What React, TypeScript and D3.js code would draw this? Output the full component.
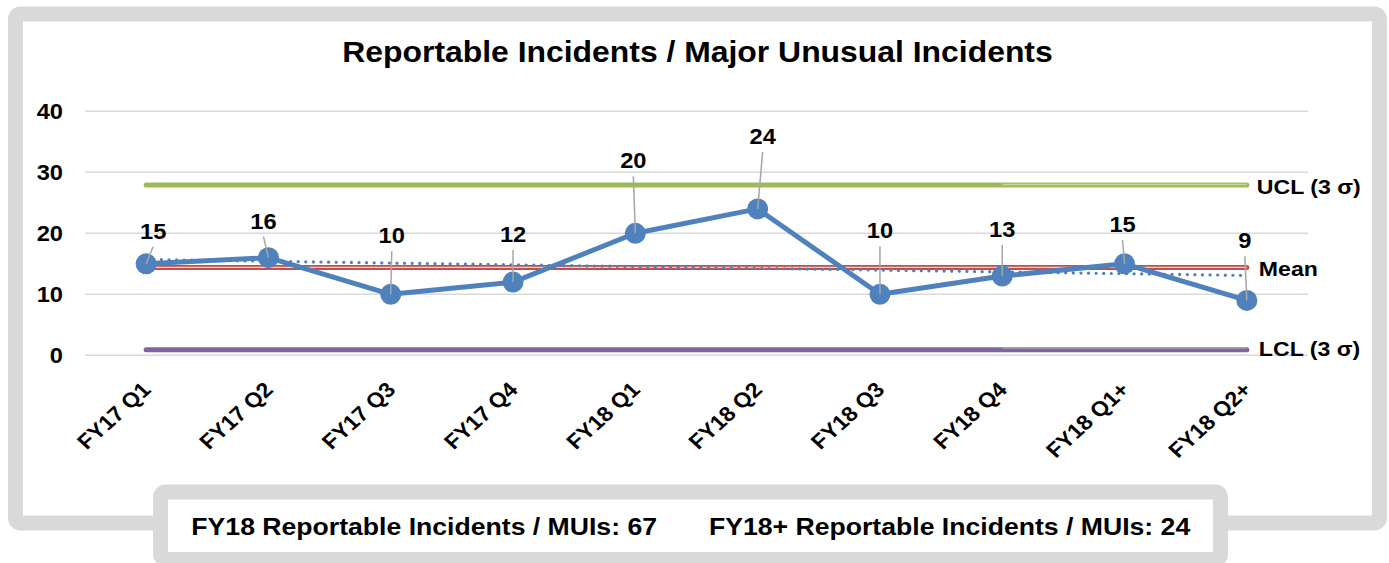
import React from "react";
import * as d3 from "d3";

// ---- data ----
const categories = ["FY17 Q1", "FY17 Q2", "FY17 Q3", "FY17 Q4", "FY18 Q1", "FY18 Q2", "FY18 Q3", "FY18 Q4", "FY18 Q1+", "FY18 Q2+"];
const incidents = [15, 16, 10, 12, 20, 24, 10, 13, 15, 9];
const uclValue = 27.9;
const lclValue = 0.9;
// thin grey limit lines over the FY18+ stretch
const plusCategories = ["FY18 Q4", "FY18 Q1+", "FY18 Q2+"];
const plusUcl = [28, 28, 28];
const plusLcl = [1.2, 1.2, 1.2];
const yTicks = [0, 10, 20, 30, 40];
const limitLabels = ["UCL (3 σ)", "Mean", "LCL (3 σ)"];
const summaryLabels = ["FY18 Reportable Incidents / MUIs: 67", "FY18+ Reportable Incidents / MUIs: 24"];
const chartTitle = "Reportable Incidents / Major Unusual Incidents";

// hand-dragged data label offsets (px) from each point
const labelShift = [[7, -25], [-5, -29], [1, -51], [0, -40], [-2, -65], [5, -65], [0, -56], [0, -39], [-2, -32], [-2, -52]];

const W = 1389, H = 563;
const FONT = "'Liberation Sans', Arial, sans-serif";
const SX = 1.1; // the picture's text is a bit wider than plain Arial
const BLUE = "#4f81bd";

const App = () => {
  // Scales
  const x = d3.scaleBand().domain(categories).range([85, 1308]).padding(0);
  const cx = (c) => x(c) + x.bandwidth() / 2;
  const y = d3.scaleLinear().domain([0, 40]).range([355.3, 111.3]);

  const mean = d3.mean(incidents);

  // least squares trendline (Excel linear trendline)
  const idx = incidents.map((_, i) => i);
  const mx = d3.mean(idx), my = mean;
  const slope = d3.sum(idx, i => (i - mx) * (incidents[i] - my)) / d3.sum(idx, i => (i - mx) ** 2);
  const trend = idx.map(i => my + slope * (i - mx));

  const line = d3.line().x(d => d[0]).y(d => d[1]);
  const pts = incidents.map((v, i) => [cx(categories[i]), y(v)]);
  const first = cx(categories[0]), last = cx(categories[categories.length - 1]);

  const flatLine = (v) => line([[first, y(v)], [last, y(v)]]);
  const plusLine = (vals) => line(vals.map((v, i) => [cx(plusCategories[i]), y(v)]));

  const txt = (tx, ty, s, size, anchor = "start", extra = "") => (
    <text transform={`translate(${tx},${ty}) scale(${SX},1)${extra}`} textAnchor={anchor}
      fontSize={size} fontWeight="bold" fontFamily={FONT} fill="#000">{s}</text>
  );

  const limitY = [y(uclValue), y(mean), y(lclValue)];
  const limitDy = [9, 9, 6];

  return (
    <svg width={W} height={H} style={{ position: "absolute", left: 0, top: 0, display: "block" }}>
      <rect x={0} y={0} width={W} height={H} fill="#fff" />

      {/* outer frame */}
      <rect x={15.5} y={14} width={1364} height={509} rx={5} fill="#fff" stroke="#d9d9d9" strokeWidth={15} />

      {/* title */}
      {txt(697.5, 62, chartTitle, 29, "middle")}

      {/* gridlines */}
      {yTicks.map(t => (
        <g key={t}>
          <line x1={85} x2={1308} y1={y(t)} y2={y(t)} stroke="#d9d9d9" strokeWidth={1.5} />
          {txt(63, y(t) + 8, String(t), 21.5, "end")}
        </g>
      ))}

      {/* control limits */}
      <path d={flatLine(uclValue)} stroke="#9bbb59" strokeWidth={5} strokeLinecap="round" fill="none" />
      <path d={flatLine(lclValue)} stroke="#8064a2" strokeWidth={5} strokeLinecap="round" fill="none" />
      <path d={plusLine(plusUcl)} stroke="#c4d79b" strokeWidth={1.5} fill="none" />
      <path d={plusLine(plusLcl)} stroke="#a6a6a6" strokeWidth={1.5} fill="none" />
      <path d={flatLine(mean)} stroke="#c0504d" strokeWidth={5} strokeLinecap="round" fill="none" />
      <path d={flatLine(mean)} stroke="#f2d3d2" strokeWidth={1.3} fill="none" />

      {/* trendline */}
      <path d={line(trend.map((v, i) => [cx(categories[i]), y(v)]))} stroke={BLUE} strokeWidth={3.2}
        strokeDasharray="0.1 7.5" strokeLinecap="round" fill="none" />

      {/* series */}
      <path d={line(pts)} stroke={BLUE} strokeWidth={5} strokeLinejoin="round" fill="none" />
      {pts.map((p, i) => <circle key={i} cx={p[0]} cy={p[1]} r={10.5} fill={BLUE} />)}

      {/* data labels + leader lines */}
      {pts.map((p, i) => {
        const lx = p[0] + labelShift[i][0], ly = p[1] + labelShift[i][1];
        return (
          <g key={i}>
            <line x1={lx} y1={ly + 8} x2={p[0]} y2={p[1]} stroke="#a6a6a6" strokeWidth={1.5} />
            {txt(lx, ly, String(incidents[i]), 21.5, "middle")}
          </g>
        );
      })}

      {/* limit labels */}
      {limitLabels.map((s, i) => <g key={s}>{txt(last + 10 + (i ? 2 : 0), limitY[i] + limitDy[i], s, 21)}</g>)}

      {/* x axis labels */}
      {categories.map(c => <g key={c}>{txt(cx(c) + 6, 391, c, 21, "end", " rotate(-45)")}</g>)}

      {/* summary box */}
      <rect x={160.5} y={492} width={1060} height={67.5} rx={5} fill="#fff" stroke="#d9d9d9" strokeWidth={15} />
      {txt(657, 535, summaryLabels[0], 24.2, "end")}
      {txt(709, 535, summaryLabels[1], 24.2, "start")}
    </svg>
  );
};

export default App;
